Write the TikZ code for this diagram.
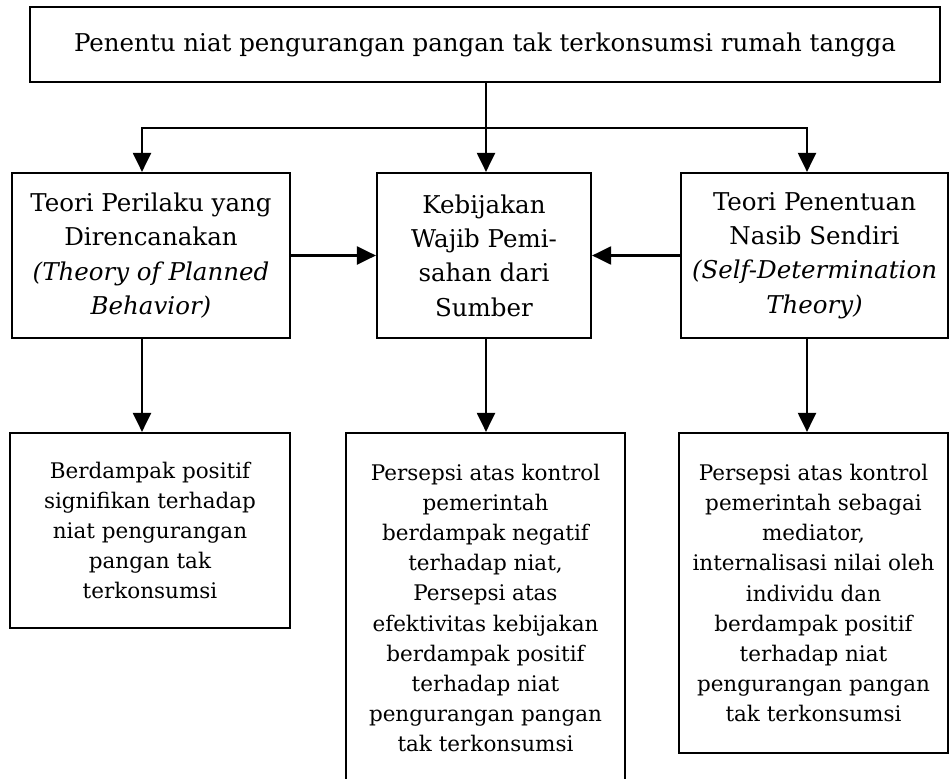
\documentclass[tikz,border=0pt]{standalone}
\usepackage{fontspec}
\setmainfont{DejaVu Serif}
\usetikzlibrary{arrows.meta}
\begin{document}
\begin{tikzpicture}[x=1pt,y=-1pt,
  box/.style={draw=black,line width=2.2pt,rectangle,inner sep=0pt,align=center,text=black},
  bigtxt/.style={font=\fontsize{24.5}{34.3}\selectfont},
  smalltxt/.style={font=\fontsize{21.5}{30.2}\selectfont},
  arr/.style={line width=2.2pt,-{Triangle[length=19pt,width=18pt]}}]
\useasboundingbox (0,0) rectangle (949,778);
\clip (0,0) rectangle (949,778);
\node[box,bigtxt,minimum width=910pt,minimum height=75pt] (top) at (485,44.5)
  {Penentu niat pengurangan pangan tak terkonsumsi rumah tangga};
\node[box,bigtxt,minimum width=278pt,minimum height=165pt] (m1) at (151,255.5)
  {Teori Perilaku yang\\Direncanakan\\\textit{(Theory of Planned}\\\textit{Behavior)}};
\node[box,bigtxt,minimum width=214pt,minimum height=165pt] (m2) at (484,255.5)
  {Kebijakan\\Wajib Pemi-\\sahan dari\\Sumber};
\node[box,bigtxt,minimum width=267pt,minimum height=165pt] (m3) at (814.5,255.5)
  {Teori Penentuan\\Nasib Sendiri\\\textit{(Self-Determination}\\\textit{Theory)}};
\node[box,smalltxt,minimum width=280pt,minimum height=195pt] (b1) at (150,530.5)
  {Berdampak positif\\signifikan terhadap\\niat pengurangan\\pangan tak\\terkonsumsi};
\node[box,smalltxt,minimum width=279pt,minimum height=350pt] (b2) at (485.5,608)
  {Persepsi atas kontrol\\pemerintah\\berdampak negatif\\terhadap niat,\\Persepsi atas\\efektivitas kebijakan\\berdampak positif\\terhadap niat\\pengurangan pangan\\tak terkonsumsi};
\node[box,smalltxt,minimum width=269pt,minimum height=320pt] (b3) at (813.5,593)
  {Persepsi atas kontrol\\pemerintah sebagai\\mediator,\\internalisasi nilai oleh\\individu dan\\berdampak positif\\terhadap niat\\pengurangan pangan\\tak terkonsumsi};
\coordinate (split) at (486,128);
\coordinate (xl) at (142,128);
\coordinate (xr) at (807,128);
\draw[arr] (top.south -| split) -- (m2.north -| split);
\draw[arr] (split) -- (xl) -- (xl |- m1.north);
\draw[arr] (split) -- (xr) -- (xr |- m3.north);
\draw[arr] (m1.east) -- (m2.west);
\draw[arr] (m3.west) -- (m2.east);
\draw[arr] (m1.south -| xl) -- (b1.north -| xl);
\draw[arr] (m2.south -| split) -- (b2.north -| split);
\draw[arr] (m3.south -| xr) -- (b3.north -| xr);
\end{tikzpicture}
\end{document}
